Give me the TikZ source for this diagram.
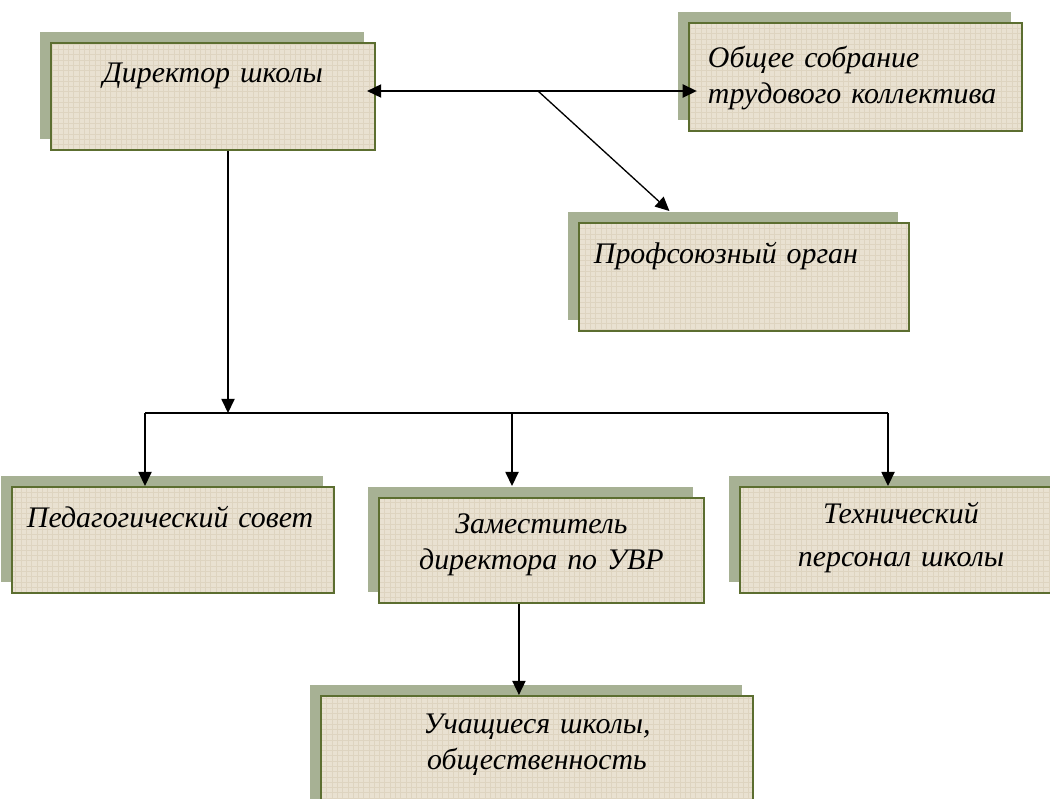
\documentclass[tikz,border=0pt]{standalone}
\usepackage{fontspec}
\setmainfont{Liberation Serif}
\usetikzlibrary{shadows,patterns,arrows.meta}

\definecolor{zelen}{RGB}{167,177,148}
\definecolor{ramka}{RGB}{92,110,48}
\definecolor{len}{RGB}{233,225,209}
\definecolor{lentkan}{RGB}{222,212,192}

\tikzset{
  blok/.style={general shadow={fill=zelen, shadow xshift=-0.22cm, shadow yshift=0.22cm},
    preaction={fill=len}, pattern=grid, pattern color=lentkan,
    draw=ramka, line width=1.1pt, anchor=north west, inner sep=0pt,
    font=\itshape\fontsize{17}{20.5}\selectfont},
  strelka/.style={line width=0.75pt, -{Triangle[length=8pt,width=7.5pt]}},
}

\begin{document}
\begin{tikzpicture}[x=0.02cm, y=-0.02cm]
  \useasboundingbox (0,0) rectangle (1050,798);
  \clip (0,0) rectangle (1050,798);

  % boxes
  \node[blok, text width=6.48cm, text height=0.80cm, text depth=1.34cm, align=center] (dir) at (50,42) {Директор школы};
  \node[blok, inner xsep=0.38cm, text width=5.9cm, text height=0.90cm, text depth=1.26cm, align=left] (sobr) at (688,22) {Общее собрание\\трудового коллектива};
  \node[blok, inner xsep=0.30cm, text width=6.0cm, text height=0.82cm, text depth=1.34cm, align=left] (prof) at (578,222) {Профсоюзный орган};
  \node[blok, inner xsep=0.30cm, text width=5.84cm, text height=0.82cm, text depth=1.30cm, align=left] (ped) at (11,486) {Педагогический совет};
  \node[blok, text width=6.50cm, text height=0.72cm, text depth=1.38cm, align=center] (zam) at (378,497) {Заместитель\\директора по УВР};
  \node[blok, text width=6.44cm, text height=0.74cm, text depth=1.38cm, align=center,
        font=\itshape\fontsize{17}{24}\selectfont] (tech) at (739,486) {Технический\\персонал школы};
  \node[blok, text width=8.64cm, text height=0.76cm, text depth=1.60cm, align=center] (uch) at (320,695) {Учащиеся школы,\\общественность};

  % connectors
  \coordinate (razv) at (538,91);
  \coordinate (shina) at (228,413);
  \coordinate (sh1) at (145,413);
  \coordinate (sh2) at (512,413);
  \coordinate (sh3) at (888,413);
  \draw[strelka, {Triangle[length=8pt,width=7.5pt]}-{Triangle[length=8pt,width=7.5pt]},
        shorten <=-5pt, shorten >=-5pt] (dir.east |- razv) -- (sobr.west |- razv);
  \draw[strelka] (razv) -- ([xshift=-1.49cm, yshift=0.22cm]prof.north);
  \draw[strelka] (dir.south -| shina) -- (shina);
  \draw[line width=0.75pt] (sh1) -- (sh3);
  \draw[strelka] (sh1) -- (sh1 |- ped.north);
  \draw[strelka, shorten >=0.22cm] (sh2) -- (sh2 |- zam.north);
  \draw[strelka] (sh3) -- (sh3 |- tech.north);
  \draw[strelka] ([xshift=-0.45cm]zam.south) -- ([xshift=-0.45cm]zam.south |- uch.north);
\end{tikzpicture}
\end{document}
